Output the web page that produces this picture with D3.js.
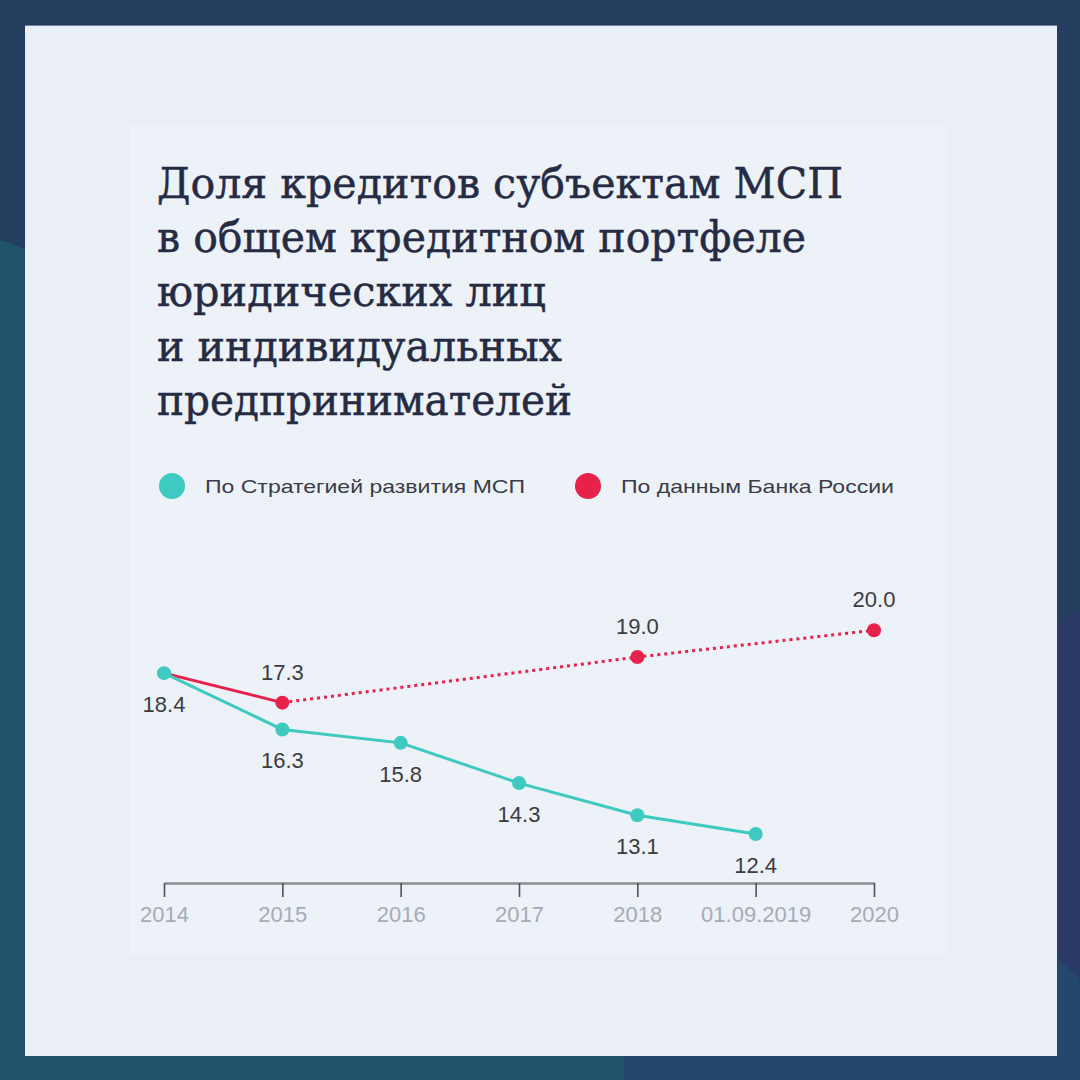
<!DOCTYPE html>
<html><head><meta charset="utf-8">
<script src="https://cdn.jsdelivr.net/npm/d3@7"></script>
<style>html,body{margin:0;padding:0;background:#253d5f;}svg{display:block;}</style>
</head><body>
<svg id="c" width="1080" height="1080"></svg>
<script>
const categories = ["2014", "2015", "2016", "2017", "2018", "01.09.2019", "2020"];
const strategyValues = [18.4, 16.3, 15.8, 14.3, 13.1, 12.4, null];
const bankValues = [18.4, 17.3, null, null, 19.0, null, 20.0];
const titleLines = ["Доля кредитов субъектам МСП", "в общем кредитном портфеле", "юридических лиц", "и индивидуальных", "предпринимателей"];
const seriesNames = ["По Стратегией развития МСП", "По данным Банка России"];

const teal = "#3ec9c1", red = "#e8214b";
const svg = d3.select("#c");

// background
svg.append("rect").attr("width",1080).attr("height",1080).attr("fill","#253d5f");
svg.append("polygon").attr("points","0,240 640,470 624,1080 0,1080").attr("fill","#1f5369");
svg.append("polygon").attr("points","624,1080 640,470 1060,640 1080,990 1080,1080").attr("fill","#24476b");
svg.append("polygon").attr("points","1040,630 1080,612 1080,979 1040,940").attr("fill","#2b3966");
svg.append("rect").attr("x",25).attr("y",25).attr("width",1032).attr("height",1031).attr("fill","#e9eef7");
svg.append("line").attr("x1",25).attr("x2",1057).attr("y1",25.5).attr("y2",25.5).attr("stroke","#6f83a0").attr("stroke-width",1);
svg.append("rect").attr("x",130).attr("y",124).attr("width",818).attr("height",831).attr("fill","#edf1f8");

// title
const tw = [686, 649, 389, 405, 415];
svg.append("g").selectAll("text").data(titleLines).join("text")
  .attr("x",157).attr("y",(d,i)=>198+i*54.2)
  .attr("font-family","'DejaVu Serif', serif").attr("font-size",43)
  .attr("fill","#262b44").attr("stroke","#262b44").attr("stroke-width",0.5)
  .attr("textLength",(d,i)=>tw[i]).attr("lengthAdjust","spacingAndGlyphs")
  .text(d=>d);

// legend
const leg = svg.append("g");
const legX = [172, 588], legW = [320, 273];
seriesNames.forEach((n,i)=>{
  leg.append("circle").attr("cx",legX[i]).attr("cy",486).attr("r",13).attr("fill",i?red:teal);
  leg.append("text").attr("x",legX[i]+33).attr("y",493).attr("font-family","'Liberation Sans', Arial, sans-serif")
    .attr("font-size",19).attr("fill","#3a3c48").attr("textLength",legW[i]).attr("lengthAdjust","spacingAndGlyphs").text(n);
});

// scales
const x = d3.scalePoint().domain(categories).range([164, 874]);
const y = d3.scaleLinear().domain([10.5, 21.5]).range([885, 590]);

// axis
const ax = svg.append("g").attr("transform","translate(0,883)")
  .call(d3.axisBottom(x).tickSize(14).tickSizeOuter(0));
ax.select(".domain").attr("stroke","#8d8e92").attr("stroke-width",2.5);
ax.selectAll(".tick line").attr("stroke","#50525a").attr("stroke-width",1.6);
ax.selectAll(".tick text").attr("font-family","'Liberation Sans', Arial, sans-serif").attr("font-size",22)
  .attr("fill","#a6abba").attr("dy",0).attr("y",39);

// data
const sData = categories.map((c,i)=>({c, v: strategyValues[i]})).filter(d=>d.v!=null);
const bData = categories.map((c,i)=>({c, v: bankValues[i]})).filter(d=>d.v!=null);
const line = d3.line().x(d=>x(d.c)).y(d=>y(d.v));

svg.append("path").datum(bData.slice(0,2)).attr("d",line).attr("fill","none").attr("stroke",red).attr("stroke-width",3);
svg.append("path").datum(bData.slice(1)).attr("d",line).attr("fill","none").attr("stroke",red).attr("stroke-width",3).attr("stroke-dasharray","3,4");
svg.append("path").datum(sData).attr("d",line).attr("fill","none").attr("stroke",teal).attr("stroke-width",3);

svg.append("g").selectAll("circle").data(bData.slice(1)).join("circle")
  .attr("cx",d=>x(d.c)).attr("cy",d=>y(d.v)).attr("r",7).attr("fill",red);
svg.append("g").selectAll("circle").data(sData).join("circle")
  .attr("cx",d=>x(d.c)).attr("cy",d=>y(d.v)).attr("r",7).attr("fill",teal);

const lf = "'Liberation Sans', Arial, sans-serif";
svg.append("g").selectAll("text").data(sData).join("text")
  .attr("x",d=>x(d.c)).attr("y",d=>y(d.v)+39).attr("text-anchor","middle")
  .attr("font-family",lf).attr("font-size",22).attr("fill","#3b3c41").text(d=>d.v.toFixed(1));
svg.append("g").selectAll("text").data(bData.slice(1)).join("text")
  .attr("x",d=>x(d.c)).attr("y",d=>y(d.v)-23).attr("text-anchor","middle")
  .attr("font-family",lf).attr("font-size",22).attr("fill","#3b3c41").text(d=>d.v.toFixed(1));
</script>
</body></html>
